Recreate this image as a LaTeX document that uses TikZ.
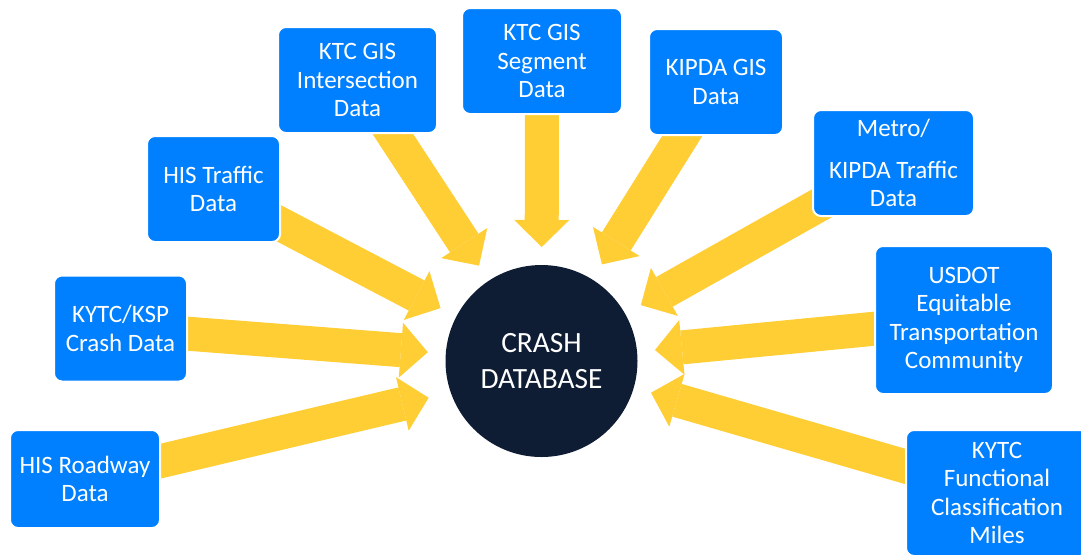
\documentclass[tikz,border=0pt]{standalone}
\usepackage{fontspec}
\setmainfont{Carlito}
\usetikzlibrary{arrows.meta,backgrounds}
\definecolor{boxblue}{RGB}{0,128,255}
\definecolor{feedyellow}{RGB}{255,205,52}
\definecolor{dbnavy}{RGB}{14,29,51}
\begin{document}
\begin{tikzpicture}[x=0.5pt,y=-0.5pt,line cap=butt,
  src/.style={draw=white,line width=1pt,fill=boxblue,rounded corners=4pt,
    text=white,align=center,inner sep=0pt,
    font=\fontsize{12.5}{14.25}\selectfont},
  feed/.style={feedyellow,line width=17pt,shorten >=9pt,
    -{Triangle[length=13.5pt,width=27.5pt,line width=0pt]}}]
\useasboundingbox (0,0) rectangle (1081,554);
% hub
\node[circle,fill=dbnavy,minimum size=96pt,inner sep=0pt,outer sep=0pt,
  text=white,align=center,font=\fontsize{14.7}{18}\selectfont]
  (db) at (541.5,361) {CRASH\\DATABASE};
% data sources, left to right
\node[src,minimum width=75pt,minimum height=49pt] (roadway) at (85,479) {HIS Roadway\\Data};
\node[src,minimum width=66.5pt,minimum height=53pt] (crash) at (120.5,328.5) {KYTC/KSP\\Crash Data};
\node[src,minimum width=66.5pt,minimum height=53pt] (traffic) at (213.5,189) {HIS Traffic\\Data};
\node[src,minimum width=79.5pt,minimum height=53pt] (inter) at (357.5,80) {KTC GIS\\Intersection\\Data};
\node[src,minimum width=80pt,minimum height=53pt] (segment) at (542,61) {KTC GIS\\Segment\\Data};
\node[src,minimum width=67pt,minimum height=53pt] (kipda) at (716,82) {KIPDA GIS\\Data};
\node[src,minimum width=80.5pt,minimum height=53pt] (metro) at (893.5,163) {Metro/\\[6.5pt]KIPDA Traffic\\Data};
\node[src,minimum width=89pt,minimum height=74pt] (usdot) at (964,320) {USDOT\\Equitable\\Transportation\\Community};
\node[src,minimum width=91pt,minimum height=63pt] (func) at (997,493) {KYTC\\Functional\\Classification\\Miles};
% fat arrows into the hub
\begin{scope}[on background layer]
\foreach \s in {crash,traffic,inter,segment,kipda,metro,usdot,func}
  \draw[feed] (\s.center) -- (db);
% bottom one aims a little low
\draw[feed,shorten >=58pt] (roadway.center) -- ([yshift=-5pt]db.center);
\end{scope}
\end{tikzpicture}
\end{document}
